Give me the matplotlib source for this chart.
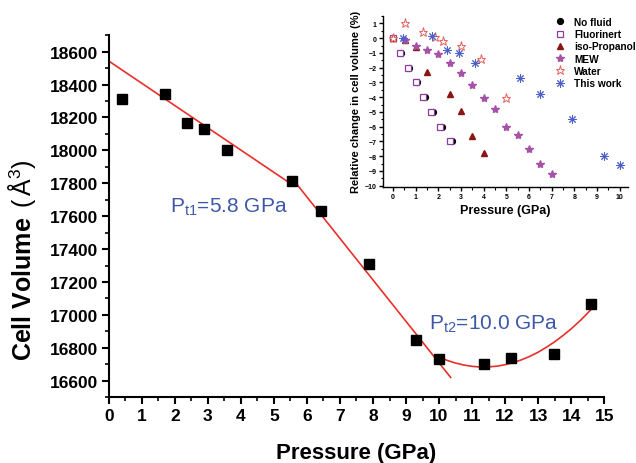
import numpy as np
import matplotlib
matplotlib.use("Agg")
import matplotlib.pyplot as plt
import matplotlib.ticker as ticker

plt.rcParams['font.family'] = ['Liberation Sans', 'DejaVu Sans']
plt.rcParams['mathtext.fontset'] = 'custom'
plt.rcParams['mathtext.rm'] = 'Liberation Sans'
plt.rcParams['mathtext.it'] = 'Liberation Sans:italic'
plt.rcParams['mathtext.bf'] = 'Liberation Sans:bold'

# main data : cell volume vs pressure
pressure = [0.40, 1.69, 2.38, 2.88, 3.57, 5.56, 6.44, 7.89, 9.30, 10.0, 11.36, 12.19, 13.49, 14.60]
volume = [18312, 18340, 18164, 18129, 18003, 17814, 17630, 17310, 16848, 16730, 16702, 16736, 16764, 17063]

# fitted curves
fit1_p = [0.0, 5.43]
fit1_v = [18543, 17808]
fit2_p = [5.57, 10.35]
fit2_v = [17825, 16620]
fit3_p = [10.0, 10.25, 10.5, 10.75, 11.0, 11.25, 11.5, 11.75, 12.0, 12.25, 12.5, 12.75,
          13.0, 13.25, 13.5, 13.75, 14.0, 14.3, 14.6]
fit3_v = [16743, 16723, 16707, 16695, 16687, 16683, 16684, 16688, 16697, 16710, 16727, 16748,
          16773, 16803, 16836, 16874, 16915, 16970, 17032]

# inset : relative change in cell volume (%)
nofluid_p = [0, 0.33, 0.69, 1.05, 1.41, 1.78, 2.16, 2.62]
nofluid_v = [0, -1, -2, -3, -4, -5, -6, -7]
fluor_p = [0, 0.31, 0.66, 1.0, 1.32, 1.69, 2.06, 2.50]
fluor_v = [0, -1, -2, -3, -4, -5, -6, -7]
iso_p = [0, 0.54, 1.0, 1.5, 2.5, 3.0, 3.5, 4.0]
iso_v = [0, -0.15, -0.6, -2.3, -3.8, -4.96, -6.6, -7.8]
mew_p = [0.53, 1.0, 1.5, 2.0, 2.5, 3.0, 3.5, 4.0, 4.5, 5.0, 5.5, 6.0, 6.5, 7.0]
mew_v = [-0.15, -0.53, -0.8, -1.1, -1.7, -2.36, -3.18, -4.03, -4.82, -6.0, -6.56, -7.49, -8.55, -9.18]
water_p = [0, 0.53, 1.32, 1.84, 2.2, 3.0, 3.9, 5.0]
water_v = [0, 1.0, 0.39, 0.09, -0.17, -0.51, -1.42, -4.03]
work_p = [0.43, 1.71, 2.40, 2.90, 3.60, 5.60, 6.50, 7.88, 9.31, 10.0]
work_v = [0.02, 0.12, -0.80, -1.00, -1.69, -2.72, -3.76, -5.48, -8.00, -8.62]

fig = plt.figure(figsize=(6.36, 4.64), dpi=100)
ax = fig.add_axes([0.171, 0.142, 0.779, 0.780])

ax.plot(fit1_p, fit1_v, color='#e8302a', lw=1.2)
ax.plot(fit2_p, fit2_v, color='#e8302a', lw=1.2)
ax.plot(fit3_p, fit3_v, color='#e8302a', lw=1.2)
ax.plot(pressure, volume, 's', color='black', ms=7, zorder=3)

ax.set_xlim(0, 15)
ax.set_ylim(16500, 18700)
ax.xaxis.set_major_locator(ticker.MultipleLocator(1))
ax.xaxis.set_minor_locator(ticker.MultipleLocator(0.5))
ax.yaxis.set_major_locator(ticker.MultipleLocator(200))
ax.yaxis.set_minor_locator(ticker.MultipleLocator(100))
ax.yaxis.set_major_formatter(ticker.StrMethodFormatter("{x:.0f}"))
for s in ['top', 'right']:
    ax.spines[s].set_visible(False)
for s in ['left', 'bottom']:
    ax.spines[s].set_linewidth(1.5)
ax.tick_params(which='major', direction='out', length=5, width=1.5, labelsize=12.5, pad=2.5)
ax.tick_params(which='minor', direction='out', length=3, width=1.2)
for lab in ax.get_xticklabels() + ax.get_yticklabels():
    lab.set_fontweight('bold')

ax.set_xlabel('Pressure (GPa)', fontsize=16, fontweight='bold', labelpad=14)
ax.set_ylabel(r'Cell Volume $\,(\,\mathrm{\AA}^{3})$', fontsize=18, fontweight='bold')
ax.yaxis.set_label_coords(-0.143, 0.38)

blue = '#3d58a8'
ax.text(1.84, 17630, r'P$_{\mathrm{t1}}$=5.8 GPa', color=blue, fontsize=15)
ax.text(9.71, 16915, r'P$_{\mathrm{t2}}$=10.0 GPa', color=blue, fontsize=15)

# inset
ins = fig.add_axes([0.602, 0.5955, 0.385, 0.368])
ins.plot(nofluid_p, nofluid_v, 'o', color='black', ms=4.2, label='No fluid')
ins.plot(fluor_p, fluor_v, 's', mfc='white', mec='#8a3f9e', mew=0.9, ms=4.5, ls='none', label='Fluorinert')
ins.plot(iso_p, iso_v, '^', color='#8b1515', ms=5, ls='none', label='iso-Propanol')
ins.plot(mew_p, mew_v, '*', color='#a552a8', ms=6, ls='none', label='MEW')
ins.plot(water_p, water_v, '*', mfc='white', mec='#e8605a', mew=0.7, ms=6.5, ls='none', label='Water')
ins.plot(work_p, work_v, marker=(8, 2, 0), color='#4a62c8', mew=0.7, ms=6, ls='none', label='This work')

ins.set_xlim(-0.45, 10.35)
ins.set_ylim(-10.07, 1.51)
ins.xaxis.set_major_locator(ticker.MultipleLocator(1))
ins.xaxis.set_minor_locator(ticker.MultipleLocator(0.5))
ins.yaxis.set_major_locator(ticker.MultipleLocator(1))
ins.yaxis.set_minor_locator(ticker.MultipleLocator(0.5))
for s in ['top', 'right']:
    ins.spines[s].set_visible(False)
for s in ['left', 'bottom']:
    ins.spines[s].set_linewidth(1.0)
ins.tick_params(which='major', direction='out', length=3, width=1.0, labelsize=5, pad=1.5)
ins.tick_params(which='minor', direction='out', length=1.8, width=0.8)
for lab in ins.get_xticklabels() + ins.get_yticklabels():
    lab.set_fontweight('bold')
ins.set_xlabel('Pressure (GPa)', fontsize=9, fontweight='bold', labelpad=3)
ins.set_ylabel('Relative change in cell volume (%)', fontsize=8, fontweight='bold', labelpad=3)

ins.legend(loc='upper left', bbox_to_anchor=(555 / 636, 1 - 18 / 464), bbox_transform=fig.transFigure,
           frameon=False, borderaxespad=0, borderpad=0, handlelength=1.0, handletextpad=0.9,
           labelspacing=0.22, prop={'size': 7.3, 'weight': 'bold'})

fig.savefig('out.png', dpi=100)
